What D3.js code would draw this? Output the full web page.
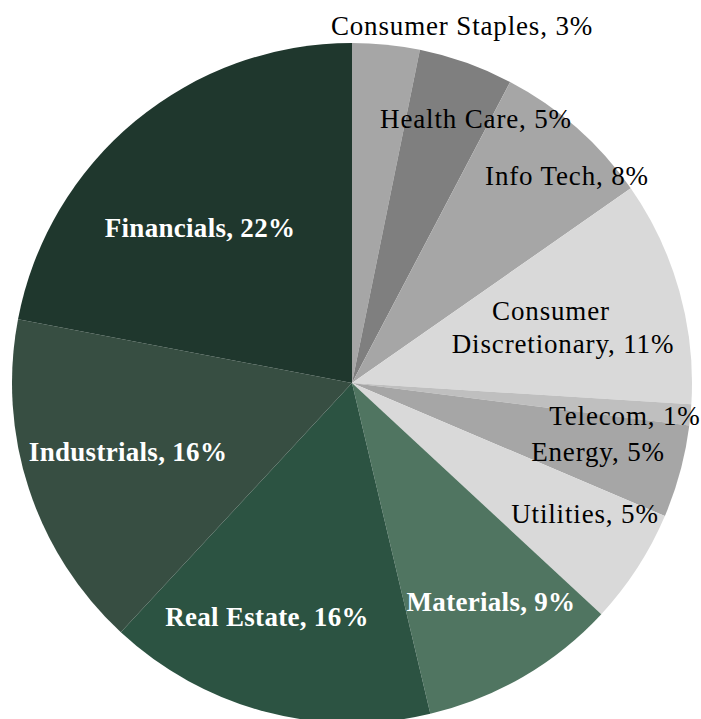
<!DOCTYPE html>
<html>
<head>
<meta charset="utf-8">
<script src="https://cdn.jsdelivr.net/npm/d3@7"></script>
<style>
  html, body { margin: 0; padding: 0; background: #ffffff; }
  svg { display: block; }
</style>
</head>
<body>
<svg id="chart" width="701" height="719"></svg>
<script>
// ---- data ----
const sectors = ["Consumer Staples", "Health Care", "Info Tech", "Consumer Discretionary",
  "Telecom", "Energy", "Utilities", "Materials", "Real Estate", "Industrials", "Financials"];
const weights = [3.2, 4.5, 7.6, 10.7, 1.0, 4.4, 5.5, 9.4, 15.6, 16.1, 22.0];
const pctLabels = ["3%", "5%", "8%", "11%", "1%", "5%", "5%", "9%", "16%", "16%", "22%"];
const sliceColors = ["#a6a6a6", "#7f7f7f", "#a6a6a6", "#d9d9d9", "#bfbfbf", "#a6a6a6",
  "#d9d9d9", "#507561", "#2c5342", "#374e42", "#1f372d"];

// ---- layout (label anchor offsets from pie centre, line breaks, styles) ----
const cx = 352, cy = 383, R = 340;
const labelLayout = {
  "Consumer Staples":       { dx: 110,  dy: -348, lines: 1 },
  "Health Care":            { dx: 124,  dy: -255, lines: 1 },
  "Info Tech":              { dx: 215,  dy: -198, lines: 1 },
  "Consumer Discretionary": { dx: 205,  dy: -63,  lines: 2, lineDx: [-6, 6] },
  "Telecom":                { dx: 273,  dy: 42,   lines: 1 },
  "Energy":                 { dx: 246,  dy: 78,   lines: 1 },
  "Utilities":              { dx: 233,  dy: 140,  lines: 1 },
  "Materials":              { dx: 139,  dy: 228,  lines: 1 },
  "Real Estate":            { dx: -85,  dy: 243,  lines: 1 },
  "Industrials":            { dx: -224, dy: 78,   lines: 1 },
  "Financials":             { dx: -152, dy: -146, lines: 1 }
};
const darkSlices = new Set(["Materials", "Real Estate", "Industrials", "Financials"]);

const data = sectors.map((s, i) => ({ name: s, value: weights[i], pct: pctLabels[i], color: sliceColors[i] }));

const svg = d3.select("#chart");
const g = svg.append("g").attr("transform", `translate(${cx},${cy})`);

const pie = d3.pie().value(d => d.value).sort(null).startAngle(0).endAngle(2 * Math.PI);
const arc = d3.arc().innerRadius(0).outerRadius(R);

g.selectAll("path.slice")
  .data(pie(data))
  .join("path")
  .attr("class", "slice")
  .attr("d", arc)
  .attr("fill", d => d.data.color);

const fontFamily = "'Liberation Serif', 'Times New Roman', serif";
const labels = g.selectAll("text.lbl")
  .data(data)
  .join("text")
  .attr("class", "lbl")
  .attr("text-anchor", "middle")
  .attr("font-family", fontFamily)
  .attr("font-size", 27)
  .attr("letter-spacing", d => darkSlices.has(d.name) ? 0.3 : 0.85)
  .attr("font-weight", d => darkSlices.has(d.name) ? "bold" : "normal")
  .attr("fill", d => darkSlices.has(d.name) ? "#ffffff" : "#000000");

labels.each(function(d) {
  const L = labelLayout[d.name];
  const t = d3.select(this);
  if (L.lines === 2) {
    const parts = d.name.split(" ");
    t.append("tspan").attr("x", L.dx + L.lineDx[0]).attr("y", L.dy).text(parts[0]);
    t.append("tspan").attr("x", L.dx + L.lineDx[1]).attr("y", L.dy + 33).text(parts.slice(1).join(" ") + ", " + d.pct);
  } else {
    t.attr("x", L.dx).attr("y", L.dy).text(d.name + ", " + d.pct);
  }
});
</script>
</body>
</html>
